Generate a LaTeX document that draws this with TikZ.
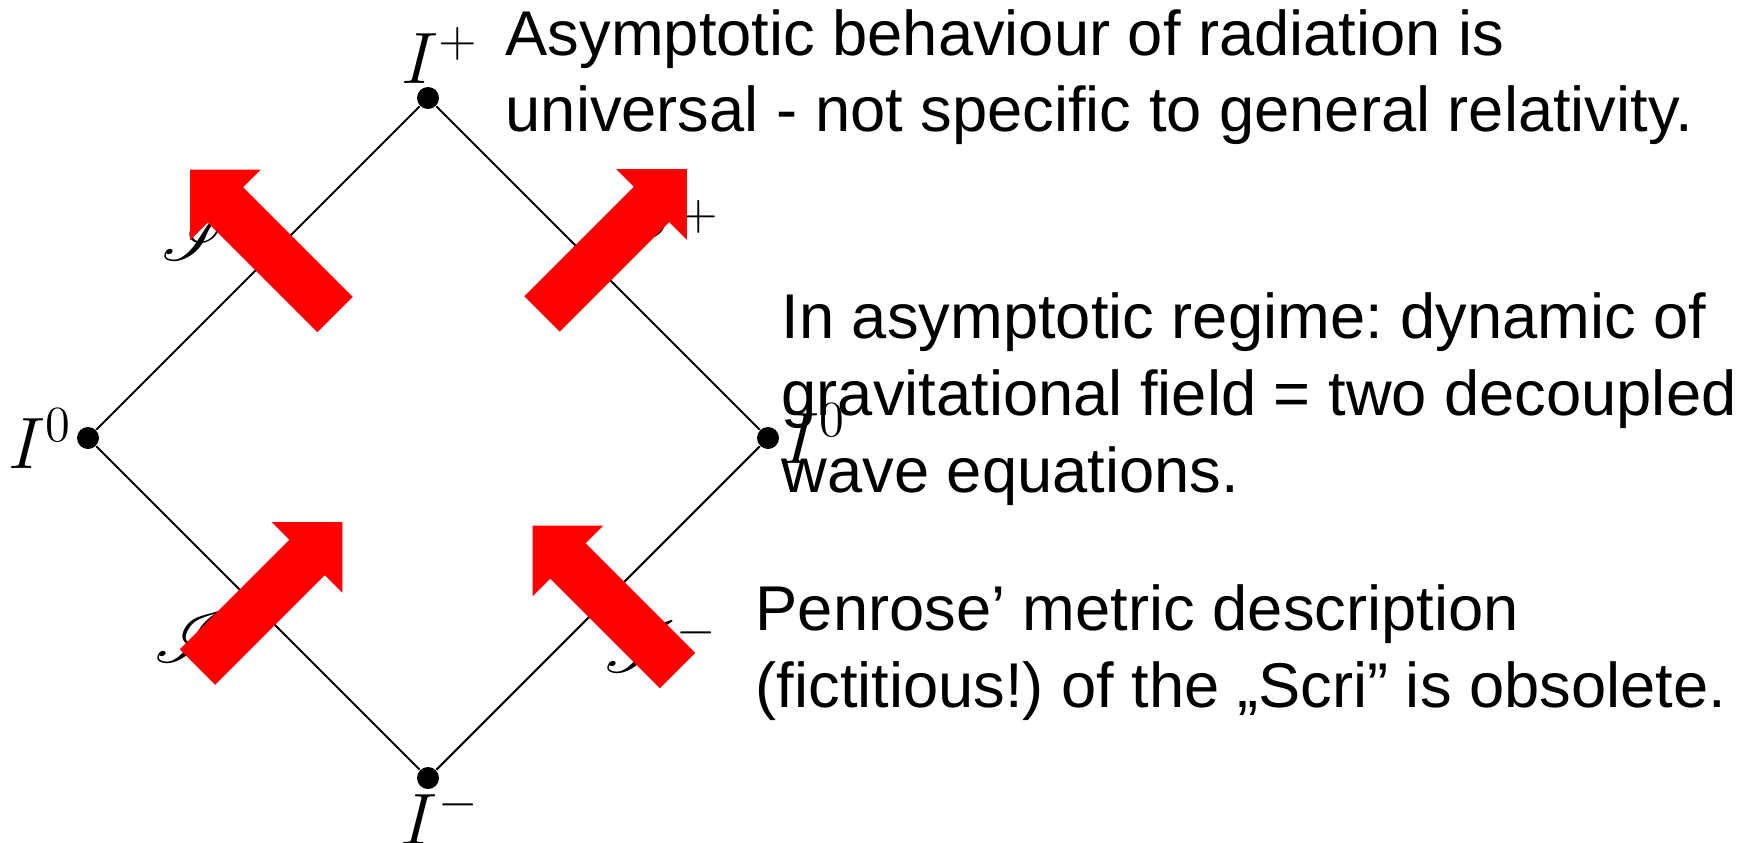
\documentclass[tikz,border=0pt]{standalone}
\usepackage{fontspec}
\setmainfont{Liberation Sans}
\usepackage{mathrsfs}
\frenchspacing
\begin{document}
\begin{tikzpicture}[dot/.style={circle, fill, inner sep=0pt, minimum size=0.22cm},
    lab/.style={inner sep=0pt, font=\fontsize{20.74}{25}\selectfont},
    txt/.style={inner sep=0pt, align=left, anchor=base west,
                font=\fontsize{18}{21.8}\selectfont}]
  \useasboundingbox (0,0) rectangle (17.49,8.42);
  % Penrose diamond
  \foreach \p/\n in {(4.28,7.44)/top, (7.68,4.04)/right, (4.28,0.64)/bot, (0.88,4.04)/left}
    { \node[dot] (\n) at \p {}; }
  \draw[line width=0.6pt] (top) -- (right) -- (bot) -- (left) -- (top);
  \foreach \p/\n/\t in {(4.40,7.59)/itop/{$I^+$}, (0.40,3.74)/ileft/{$I^0$},
                        (8.14,3.79)/iright/{$I^0$}, (4.40,-0.02)/ibot/{$I^-$}}
    { \node[lab, anchor=base] (\n) at \p {\t}; }
  \foreach \p/\n/\t in {(1.60,5.82)/scrtl/{$\mathscr{I}^+$}, (6.06,5.86)/scrtr/{$\mathscr{I}^+$},
                        (1.53,1.80)/scrbl/{$\mathscr{I}^-$}, (6.03,1.70)/scrbr/{$\mathscr{I}^-$}}
    { \node[lab, anchor=base west] (\n) at \p {\t}; }
  % radiation arrows
  \foreach \t/\a in {(3.35,5.275)/135, (5.42,5.28)/45, (1.975,1.75)/45, (6.775,1.715)/135}
    \fill[red, shift={\t}, rotate=\a] (0,-0.25) -- (1.55,-0.25) -- (1.55,-0.5) -- (2.05,0)
      -- (1.55,0.5) -- (1.55,0.25) -- (0,0.25) -- cycle;
  % remarks (anchored at the last line)
  \node[txt] (univ) at (5.05,7.10) {Asymptotic behaviour of radiation is\\
    universal - not specific to general relativity.};
  \node[txt] (wave) at (7.81,3.50) {In asymptotic regime: dynamic of\\
    gravitational field = two decoupled\\wave equations.};
  \node[txt] (scri) at (7.55,1.35) {Penrose’ metric description\\
    (fictitious!) of the „Scri” is obsolete.};
\end{tikzpicture}
\end{document}
